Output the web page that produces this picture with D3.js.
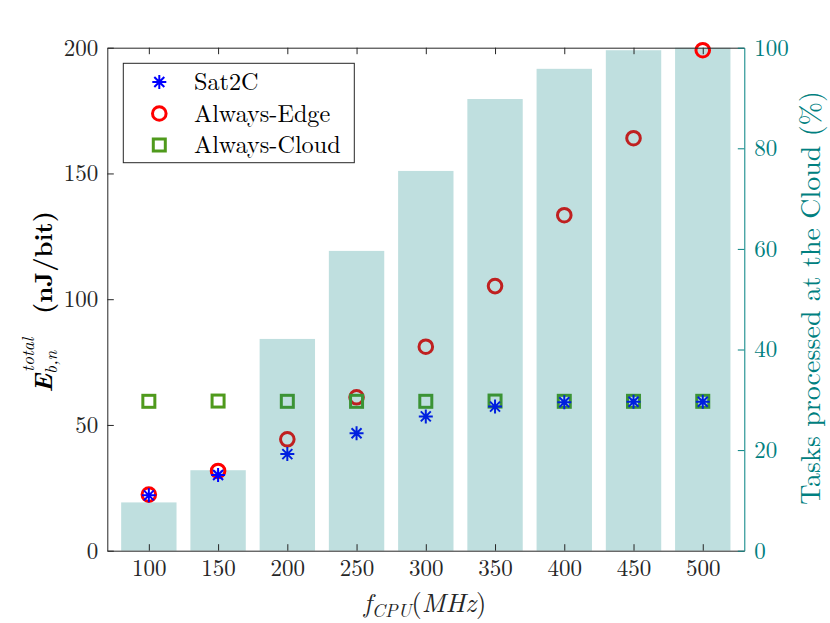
<!DOCTYPE html>
<html><head><meta charset="utf-8">
<script src="https://cdn.jsdelivr.net/npm/d3@7/dist/d3.min.js"></script>
<style>body{margin:0;background:#fff}svg{display:block}</style>
</head><body><svg id="c" width="830" height="623"></svg>
<script>
// ---- data ----
const categories = [100,150,200,250,300,350,400,450,500];           // f_CPU (MHz)
const cloudShare = [9.6,16.0,42.1,59.6,75.5,89.8,95.8,99.5,100];     // % tasks at cloud (right axis)
const sat2c      = [22.0,30.1,38.4,46.7,53.4,57.3,59.0,59.2,59.2];   // nJ/bit
const alwaysEdge = [22.3,31.7,44.3,61.0,81.1,105.2,133.4,164.0,199.0];
const alwaysCloud= [59.4,59.5,59.4,59.4,59.4,59.5,59.4,59.4,59.4];
const xTicks = [100,150,200,250,300,350,400,450,500];
const yLeftTicks = [0,50,100,150,200];
const yRightTicks = [0,20,40,60,80,100];
const seriesNames = ["Sat2C","Always-Edge","Always-Cloud"];

// ---- layout ----
const FONT="'Latin Modern Roman','Liberation Serif',serif";
const L=107.3, R=744.3, T=47.7, B=550.7;
const TEAL="#008080", AX="#262626";
const RED="#ff0000", BLUE="#0000ff", GREEN="#4f9a1c";
const svg=d3.select("#c");
const x=d3.scaleLinear().domain([70,530]).range([L,R]);
const yL=d3.scaleLinear().domain([0,200]).range([B,T]);
const yR=d3.scaleLinear().domain([0,100]).range([B,T]);
const barHalf=20;

const below=svg.append("g"), barsG=svg.append("g"), above=svg.append("g");

function drawMarker(g,type,cx,cy){
  if(type==="star"){
    const s=7, d=5;
    const p=`M${cx-s},${cy}L${cx+s},${cy}M${cx},${cy-s}L${cx},${cy+s}M${cx-d},${cy-d}L${cx+d},${cy+d}M${cx-d},${cy+d}L${cx+d},${cy-d}`;
    g.append("path").attr("d",p).attr("stroke",BLUE).attr("stroke-width",2).attr("fill","none");
  } else if(type==="circle"){
    g.append("circle").attr("cx",cx).attr("cy",cy).attr("r",6.8).attr("fill","none").attr("stroke",RED).attr("stroke-width",3);
  } else {
    g.append("rect").attr("x",cx-6).attr("y",cy-6).attr("width",12).attr("height",12).attr("fill","none").attr("stroke",GREEN).attr("stroke-width",3);
  }
}
const ext={star:7,circle:8.3,square:7.5};
function plotSeries(vals,type){
  vals.forEach((v,i)=>{
    const cx=x(categories[i]), cy=yL(v);
    const barTop=yR(cloudShare[i]);
    const g=(cy-ext[type] < barTop)? above: below;
    drawMarker(g,type,cx,cy);
  });
}
plotSeries(alwaysEdge,"circle");
plotSeries(alwaysCloud,"square");
plotSeries(sat2c,"star");

// bars (semi-transparent teal over markers)
barsG.selectAll("rect").data(categories).join("rect")
  .attr("x",d=>x(d-barHalf)).attr("width",d=>x(d+barHalf)-x(d-barHalf))
  .attr("y",(d,i)=>yR(cloudShare[i])).attr("height",(d,i)=>B-yR(cloudShare[i]))
  .attr("fill",TEAL).attr("fill-opacity",0.25);
above.raise();

// axes
const axG=svg.append("g");
const xb=axG.append("g").attr("transform",`translate(0,${B})`)
  .call(d3.axisBottom(x).tickValues(xTicks).tickSizeInner(-6.5).tickSizeOuter(0).tickPadding(9));
const xt=axG.append("g").attr("transform",`translate(0,${T})`)
  .call(d3.axisTop(x).tickValues(xTicks).tickSizeInner(-6.5).tickSizeOuter(0).tickFormat(""));
const yl=axG.append("g").attr("transform",`translate(${L},0)`)
  .call(d3.axisLeft(yL).tickValues(yLeftTicks).tickSizeInner(-6.5).tickSizeOuter(0).tickPadding(9));
const yr=axG.append("g").attr("transform",`translate(${R},0)`)
  .call(d3.axisRight(yR).tickValues(yRightTicks).tickSizeInner(-6.5).tickSizeOuter(0).tickPadding(10));
axG.selectAll("g").attr("font-family",null).attr("font-size",null);
[xb,xt,yl].forEach(g=>{g.selectAll("path,line").attr("stroke",AX);g.selectAll("text").attr("fill",AX);});
yr.selectAll("path,line").attr("stroke",TEAL);
yr.selectAll("text").attr("fill",TEAL);
axG.selectAll("text").style("font-family",FONT).style("font-size","23px");
axG.selectAll(".domain").attr("stroke-width",1);

// legend
const lg=svg.append("g");
lg.append("rect").attr("x",123.3).attr("y",63.3).attr("width",231).attr("height",99.4)
  .attr("fill","#fff").attr("stroke",AX).attr("stroke-width",1);
const lt=["star","circle","square"];
seriesNames.forEach((n,i)=>{
  const cy=82+i*31.5;
  drawMarker(lg,lt[i],159.3,cy);
  lg.append("text").attr("x",194).attr("y",cy).attr("dy","0.34em").text(n)
    .style("font-family",FONT).style("font-size","24.2px").attr("fill","#000");
});

// multi-part label builder
function buildLabel(g,parts,fs){
  let xpos=0;
  const mk=(txt,xx,yy,size,it,b)=>g.append("text").attr("x",xx).attr("y",yy).text(txt)
    .style("font-family",FONT).style("font-size",size+"px")
    .style("font-style",it?"italic":"normal").style("font-weight",b?"bold":"normal");
  parts.forEach(p=>{
    if(p.gap){xpos+=p.gap;return;}
    if(p.sub||p.sup){
      let w=0;
      if(p.sup){const t=mk(p.sup,xpos+(p.supShift||0),-fs*(p.supY||0.5),fs*0.7,true,p.b);w=Math.max(w,t.node().getComputedTextLength()+(p.supShift||0));}
      if(p.sub){const t=mk(p.sub,xpos,fs*(p.subY||0.25),fs*0.7,true,p.b);w=Math.max(w,t.node().getComputedTextLength());}
      xpos+=w;
    } else {
      const t=mk(p.t,xpos,0,fs,p.it,p.b);
      xpos+=t.node().getComputedTextLength();
    }
  });
  g.selectAll("text").attr("x",function(){return +d3.select(this).attr("x")-xpos/2;});
  return g;
}
// y-left label
const ylab=svg.append("g").attr("transform","translate(52,302) rotate(-90)").attr("fill","#000");
buildLabel(ylab,[{t:"E",it:true,b:true},{sub:"b,n",sup:"total",supY:0.72,subY:0.18,supShift:2},{gap:24},{t:"(nJ/bit)",b:true}],25);
// x label
const xlab=svg.append("g").attr("transform","translate(425,612)").attr("fill",AX);
buildLabel(xlab,[{t:"f",it:true},{sub:"CPU",subY:0.2},{t:"(",it:false},{t:"MHz",it:true},{t:")",it:false}],26.5);
// right label
svg.append("text").attr("transform","translate(820,298) rotate(-90)").attr("text-anchor","middle")
  .attr("fill",TEAL).style("font-family",FONT).style("font-size","28px").text("Tasks processed at the Cloud (%)");
</script></body></html>
